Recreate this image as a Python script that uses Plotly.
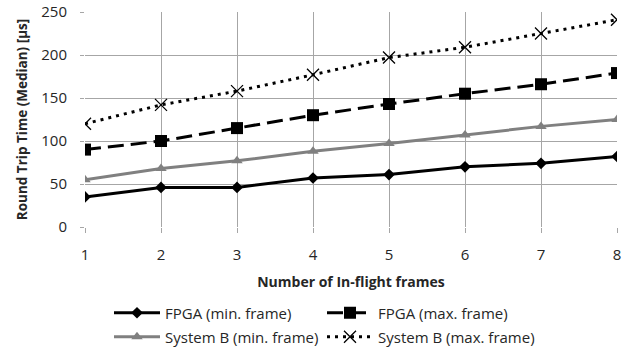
import plotly.graph_objects as go

frames = [1, 2, 3, 4, 5, 6, 7, 8]
fpga_min = [35, 46, 46, 57, 61, 70, 74, 82]
fpga_max = [90, 100, 115, 130, 143, 155, 166, 179]
sysb_min = [55, 68, 77, 88, 97, 107, 117, 125]
sysb_max = [120, 142, 158, 177, 197, 209, 225, 241]
y_ticks = [0, 50, 100, 150, 200, 250]

FONT = "Open Sans"
fig = go.Figure()
fig.add_trace(go.Scatter(x=frames, y=fpga_min, name="FPGA (min. frame)", mode="lines+markers",
                         line=dict(color="black", width=3), showlegend=True,
                         marker=dict(symbol="diamond", size=9, color="black"), legend="legend"))
fig.add_trace(go.Scatter(x=frames, y=fpga_max, name="FPGA (max. frame)", mode="lines+markers",
                         line=dict(color="black", width=3, dash="16px,7px"), showlegend=True,
                         marker=dict(symbol="square", size=12, color="black"), legend="legend2"))
fig.add_trace(go.Scatter(x=frames, y=sysb_min, name="System B (min. frame)", mode="lines+markers",
                         line=dict(color="#808080", width=3), showlegend=True,
                         marker=dict(symbol="triangle-up", size=10, color="#808080"), legend="legend3"))
fig.add_trace(go.Scatter(x=frames, y=sysb_max, name="System B (max. frame)", mode="lines+markers",
                         line=dict(color="black", width=3, dash="3px,5px"), showlegend=True,
                         marker=dict(symbol="x-thin", size=12, line=dict(color="black", width=1.3)),
                         legend="legend4"))

leg_common = dict(orientation="h", xref="container", yref="container", xanchor="left", yanchor="middle",
                  font=dict(size=15), bgcolor="rgba(0,0,0,0)", itemwidth=46)
fig.update_layout(
    width=630, height=356, showlegend=True,
    margin=dict(l=85, r=13, t=12, b=129, autoexpand=False),
    plot_bgcolor="white", paper_bgcolor="white",
    font=dict(family=FONT, size=15, color="#262626"),
    xaxis=dict(range=[1, 8], tickvals=frames, showgrid=True, gridcolor="#a6a6a6", gridwidth=1,
               ticks="outside", ticklen=5, tickcolor="#a6a6a6", zeroline=False,
               showline=False, tickfont=dict(size=15), ticklabelstandoff=9,
               title=dict(text="<b>Number of In-flight frames</b>", font=dict(size=14), standoff=14)),
    yaxis=dict(range=[0, 250], tickvals=y_ticks, showgrid=True, gridcolor="#a6a6a6", gridwidth=1,
               ticks="outside", ticklen=4, tickcolor="#a6a6a6", zeroline=False,
               showline=False, tickfont=dict(size=15), ticklabelstandoff=10,
               ticklabeloverflow="allow",
               title=dict(text="<b>Round Trip Time (Median) [µs]</b>", font=dict(size=13.5), standoff=10)),
    legend=dict(x=109 / 630, y=1 - 313 / 356, **leg_common),
    legend2=dict(x=322 / 630, y=1 - 313 / 356, **leg_common),
    legend3=dict(x=109 / 630, y=1 - 337 / 356, **leg_common),
    legend4=dict(x=322 / 630, y=1 - 337 / 356, **leg_common),
)
fig.write_html("out.html", config={"displayModeBar": False},
               post_script="document.body.style.margin='0px';")
